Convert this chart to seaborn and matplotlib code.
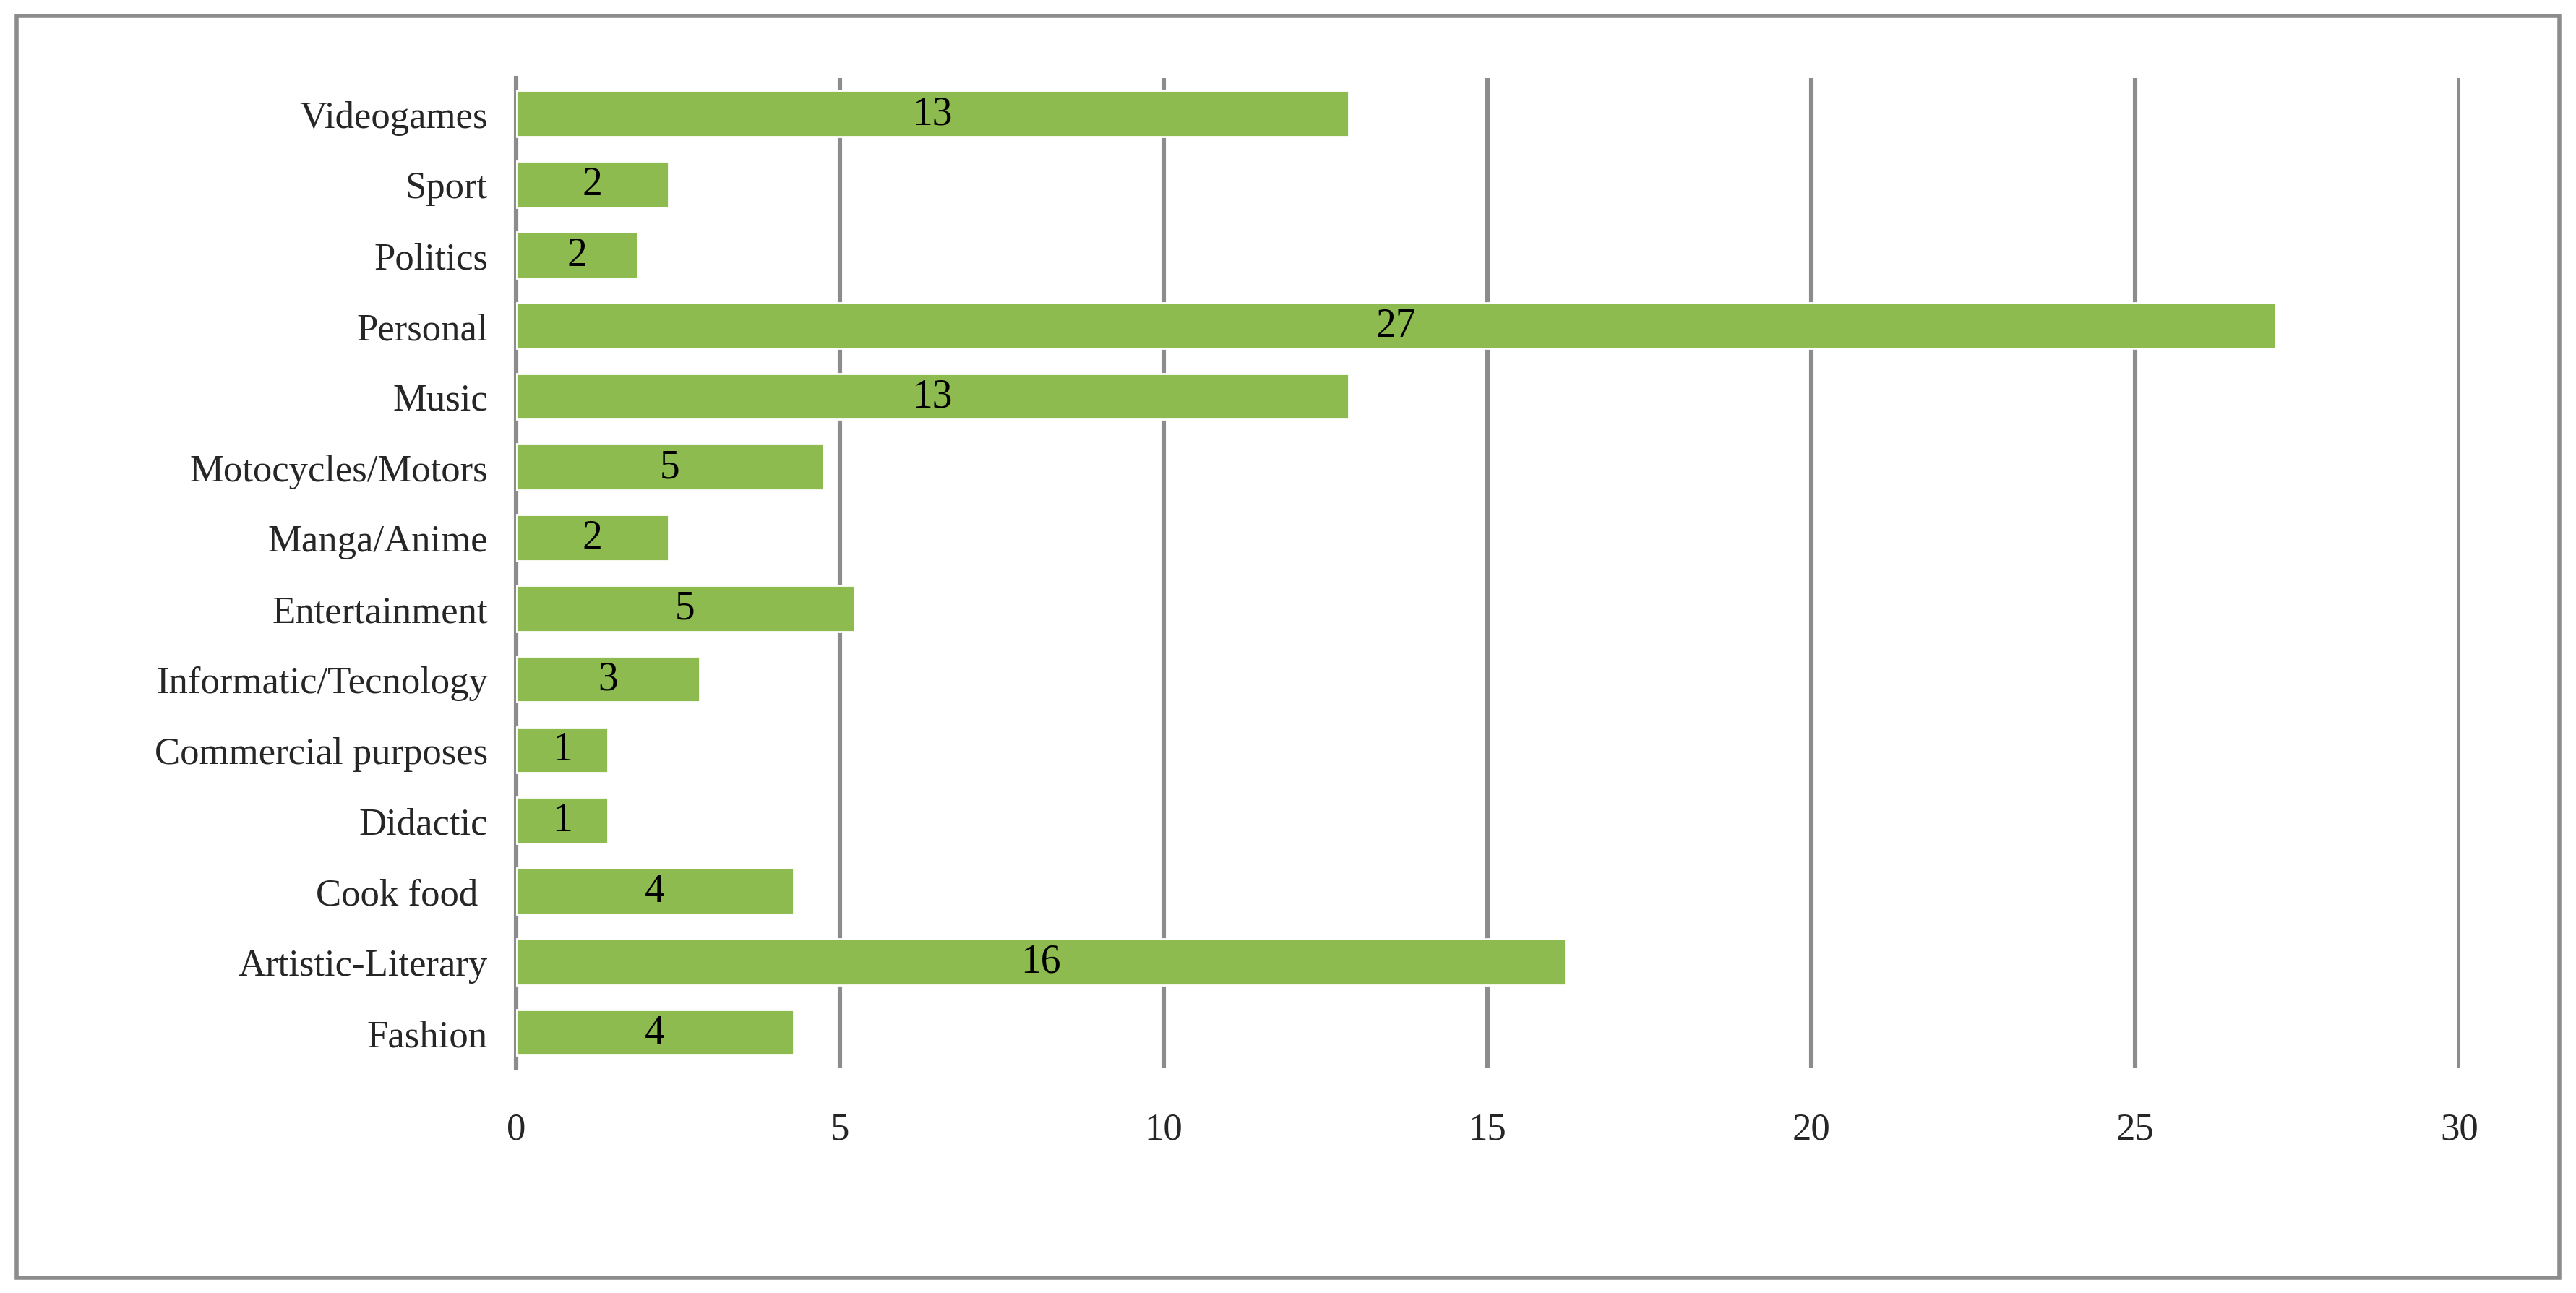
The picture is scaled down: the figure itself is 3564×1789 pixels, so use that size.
import matplotlib
matplotlib.use("Agg")
import matplotlib.pyplot as plt
import seaborn as sns
import pandas as pd
from matplotlib.patches import Rectangle

categories = ["Videogames", "Sport", "Politics", "Personal", "Music", "Motocycles/Motors",
              "Manga/Anime", "Entertainment", "Informatic/Tecnology", "Commercial purposes",
              "Didactic", "Cook food ", "Artistic-Literary", "Fashion"]
values = [12.86, 2.36, 1.88, 27.16, 12.86, 4.74, 2.36, 5.22, 2.84, 1.42, 1.42, 4.29, 16.2, 4.29]
labels = ["13", "2", "2", "27", "13", "5", "2", "5", "3", "1", "1", "4", "16", "4"]

df = pd.DataFrame({"category": categories, "value": values})

sns.set_style("white")
plt.rcParams["font.family"] = ["Liberation Serif", "DejaVu Serif"]

fig = plt.figure(figsize=(17.82, 8.95), dpi=200)
ax = fig.add_axes([0.2003, 0.174, 0.7544, 0.765])
sns.barplot(data=df, x="value", y="category", color="#8DBB50", saturation=1,
            width=0.65, ax=ax, zorder=3)

for i, (v, lab) in enumerate(zip(values, labels)):
    ax.text(v / 2, i, lab, ha="center", va="center", fontsize=20, color="black", zorder=4)

ax.set_xlim(0, 30)
ax.set_xticks(range(0, 31, 5))
ax.set_ylim(13.5, -0.5)
ax.xaxis.grid(True, color="#8C8C8C", linewidth=2.2)
ax.set_axisbelow(True)
ax.set_xlabel("")
ax.set_ylabel("")
ax.tick_params(axis="both", labelsize=19, length=0, pad=14)
ax.tick_params(axis="x", pad=22)
for s in ["top", "right", "bottom"]:
    ax.spines[s].set_visible(False)
ax.spines["left"].set_color("#8C8C8C")
ax.spines["left"].set_linewidth(2.2)

fig.patches.append(Rectangle((0.0065, 0.012), 0.987, 0.975, transform=fig.transFigure,
                             fill=False, edgecolor="#8C8C8C", linewidth=2))

fig.savefig("out.png", dpi=200)
